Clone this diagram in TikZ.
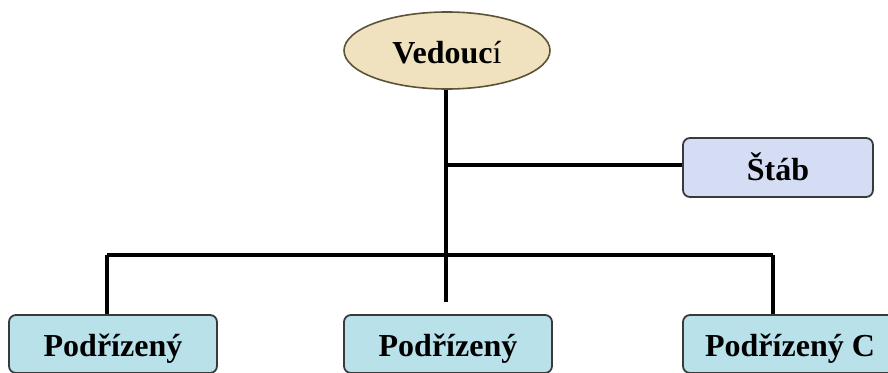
\documentclass[tikz,border=0pt]{standalone}
\usepackage{fontspec}
\setmainfont{Liberation Serif}
\usetikzlibrary{shapes.geometric}
\definecolor{headfill}{HTML}{F0E2BE}
\definecolor{headline}{HTML}{5C5236}
\definecolor{stafffill}{HTML}{D4DDF4}
\definecolor{subfill}{HTML}{B8E1EA}
\definecolor{boxline}{HTML}{3A3A3A}
\tikzset{
  lbl/.style={font=\fontsize{32}{37}\selectfont\bfseries, text height=25pt, text depth=0pt, inner sep=0pt},
  head/.style={lbl, ellipse, draw=headline, line width=1.6pt, fill=headfill,
    minimum width=206pt, minimum height=77pt},
  staffbox/.style={lbl, draw=boxline, line width=1.8pt, fill=stafffill,
    rounded corners=7pt, minimum width=190pt, minimum height=59pt},
  subbox/.style={lbl, draw=boxline, line width=1.8pt, fill=subfill,
    rounded corners=7pt, minimum width=208pt, minimum height=58pt},
  link/.style={line width=3.6pt, black}
}
\begin{document}
\begin{tikzpicture}[x=1pt, y=-1pt]
  \useasboundingbox (0,0) rectangle (888,372);

  % leader, staff and subordinates
  \node[head] (lead) at (447,50.5) {Vedouc\textmd{í}};
  \node[staffbox] (staff) at (778,167.5) {Štáb};
  \node[subbox] (subA) at (113,344) {Podřízený};
  \node[subbox] (subB) at (448,344) {Podřízený};
  \node[subbox, minimum width=214pt] (subC) at (790,344) {Podřízený C};

  % junction points of the tree
  \coordinate (trunkEnd) at (446,302);
  \coordinate (staffJoin) at (446,165);
  \coordinate (busL) at (107,255);
  \coordinate (busR) at (773,255);

  % connectors
  \draw[link] (lead.south -| trunkEnd) -- (trunkEnd);
  \draw[link] (staffJoin) -- (staff.west |- staffJoin);
  \draw[link] (busL) -- (busR);
  \draw[link] (busL) -- (busL |- subA.north);
  \draw[link] (busR) -- (busR |- subC.north);
\end{tikzpicture}
\end{document}
